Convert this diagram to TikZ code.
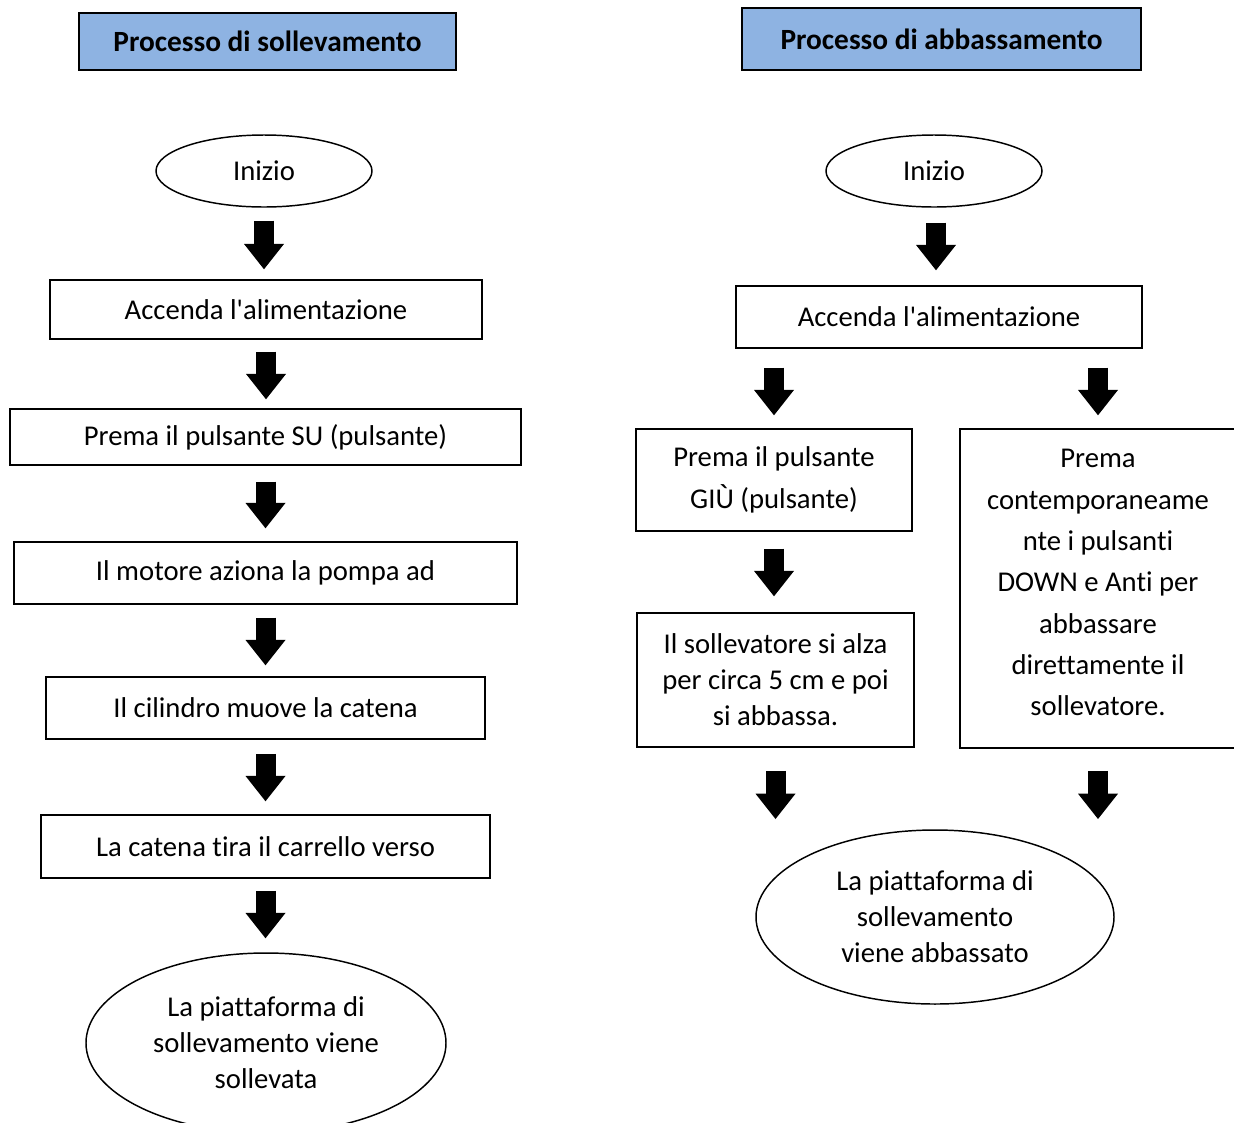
\documentclass[tikz,border=0pt]{standalone}
\usepackage{fontspec}
\setmainfont{Carlito}[Ligatures=NoCommon]
\usetikzlibrary{shapes.geometric,arrows.meta}
\newcommand\pxu{0.75pt}
\newcommand\apos{\textquotesingle}
\definecolor{titleblue}{RGB}{142,179,226}
\begin{document}
\begin{tikzpicture}[x=0.75pt,y=-0.75pt,
 box/.style={draw, line width=1.1pt, inner sep=0pt, align=center, font=\fontsize{21.5}{27}\selectfont},
 wbox/.style={box, font=\fontsize{21.5}{31}\selectfont},
 oval/.style={draw, ellipse, line width=1.1pt, inner sep=0pt, align=center, font=\fontsize{21.5}{27}\selectfont},
 titlebox/.style={draw, fill=titleblue, line width=1.4pt, inner sep=0pt, font=\fontsize{22}{27}\selectfont\bfseries},
 barrow/.style={line width=15pt, -{Triangle[width=30pt,length=19pt,line width=0pt]}},
]
\path[use as bounding box] (0,0) rectangle (1234,1122);
\clip (0,0) rectangle (1234,1122);
% left column
\node[titlebox, minimum width=377*\pxu, minimum height=57*\pxu] (tL) at (267.5,41.5) {Processo di sollevamento};
\node[oval, minimum width=216*\pxu, minimum height=72*\pxu] (iL) at (264,171) {Inizio};
\node[box, minimum width=432*\pxu, minimum height=59*\pxu] (a1) at (266,309.5) {Accenda l\apos alimentazione};
\node[box, minimum width=511*\pxu, minimum height=56*\pxu] (a2) at (265.5,437) {Prema il pulsante SU (pulsante)};
\node[box, minimum width=503*\pxu, minimum height=62*\pxu] (a3) at (265.5,573) {Il motore aziona la pompa ad};
\node[box, minimum width=439*\pxu, minimum height=62*\pxu] (a4) at (265.5,708) {Il cilindro muove la catena};
\node[box, minimum width=449*\pxu, minimum height=63*\pxu] (a5) at (265.5,846.5) {La catena tira il carrello verso};
\node[oval, minimum width=360*\pxu, minimum height=180*\pxu] (eL) at (266,1043) {La piattaforma di\\sollevamento viene\\sollevata};
\draw[barrow, shorten <=13*\pxu, shorten >=10*\pxu] (iL.south) -- (iL.south |- a1.north);
\draw[barrow, shorten <=12*\pxu, shorten >=9*\pxu] (a1.south) -- (a1.south |- a2.north);
\draw[barrow, shorten <=16*\pxu, shorten >=13*\pxu] (a2.south) -- (a2.south |- a3.north);
\draw[barrow, shorten <=13*\pxu, shorten >=11*\pxu] (a3.south) -- (a3.south |- a4.north);
\draw[barrow, shorten <=14*\pxu, shorten >=13*\pxu] (a4.south) -- (a4.south |- a5.north);
\draw[barrow, shorten <=12*\pxu, shorten >=14*\pxu] (a5.south) -- (a5.south |- eL.north);
% right column
\node[titlebox, minimum width=399*\pxu, minimum height=62*\pxu] (tR) at (941.5,39) {Processo di abbassamento};
\node[oval, minimum width=216*\pxu, minimum height=72*\pxu] (iR) at (934,171) {Inizio};
\node[box, minimum width=406*\pxu, minimum height=62*\pxu] (b1) at (939,317) {Accenda l\apos alimentazione};
\node[wbox, minimum width=276*\pxu, minimum height=102*\pxu] (p1) at (774,480) {Prema il pulsante\\GIÙ (pulsante)};
\node[wbox, minimum width=276*\pxu, minimum height=319*\pxu, text depth=9pt] (p2) at (1098,588.5) {Prema\\contemporaneame\\nte i pulsanti\\DOWN e Anti per\\abbassare\\direttamente il\\sollevatore.};
\node[box, minimum width=277*\pxu, minimum height=134*\pxu] (s1) at (775.5,680) {Il sollevatore si alza\\per circa 5 cm e poi\\si abbassa.};
\node[oval, minimum width=358*\pxu, minimum height=174*\pxu] (eR) at (935,917) {La piattaforma di\\sollevamento\\viene abbassato};
\coordinate (tipL) at (775.5,819);
\coordinate (tipR) at (1098,819);
\draw[barrow, shorten <=15*\pxu, shorten >=15*\pxu] ([xshift=2*\pxu]iR.south) -- ([xshift=2*\pxu]iR.south |- b1.north);
\draw[barrow, shorten <=19*\pxu, shorten >=13*\pxu] (b1.south -| p1) -- (p1.north);
\draw[barrow, shorten <=19*\pxu, shorten >=13*\pxu] (b1.south -| p2) -- (p2.north);
\draw[barrow, shorten <=17*\pxu, shorten >=16*\pxu] (p1.south) -- (p1.south |- s1.north);
\draw[barrow, shorten <=23*\pxu] (s1.south) -- (s1.south |- tipL);
\draw[barrow, shorten <=22*\pxu] (p2.south) -- (p2.south |- tipR);
\end{tikzpicture}
\end{document}
